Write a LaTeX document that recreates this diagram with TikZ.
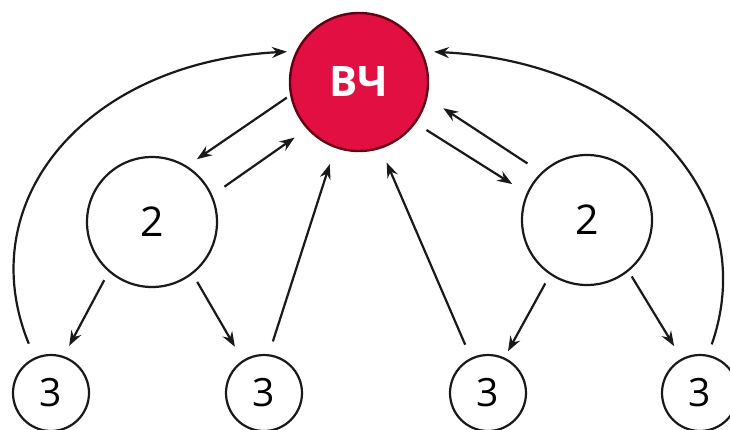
\documentclass[tikz,border=0pt]{standalone}
\usepackage{fontspec}
\setmainfont{Open Sans}
\usetikzlibrary{arrows.meta}
\definecolor{vcred}{RGB}{226,16,66}
\definecolor{vcedge}{RGB}{100,0,20}
\definecolor{ink}{RGB}{25,25,25}
\begin{document}
\begin{tikzpicture}[x=1pt,y=-1pt,
  bignode/.style={circle,draw=ink,line width=2.2pt,minimum size=130pt,inner sep=0pt,font=\fontsize{41}{41}\selectfont},
  smallnode/.style={circle,draw=ink,line width=2.2pt,minimum size=76pt,inner sep=0pt,font=\fontsize{39}{39}\selectfont},
  hub/.style={circle,draw=vcedge,fill=vcred,line width=2.4pt,minimum size=138pt,inner sep=0pt,text=white,font=\bfseries\fontsize{42}{42}\selectfont},
  arr/.style={draw=ink,line width=2.2pt,-{Stealth[length=15pt,width=11pt,inset=5pt]}}]
\useasboundingbox (0,0) rectangle (730,430);
\node[hub] (vc) at (359,82) {ВЧ};
\node[bignode] (L2) at (152,222) {2};
\node[bignode] (R2) at (587,220) {2};
\node[smallnode] (a) at (51,393) {3};
\node[smallnode] (b) at (264,393) {3};
\node[smallnode] (c) at (488,393) {3};
\node[smallnode] (d) at (700,393) {3};
\draw[arr,shorten <=4pt,shorten >=12pt] (vc.191) -- (L2.58);
\draw[arr,shorten <=14.7pt,shorten >=15pt] (L2.24) -- (vc.222.6);
\draw[arr,shorten <=9.4pt,shorten >=11.6pt] (L2.229) -- (a.71);
\draw[arr,shorten <=9pt,shorten >=15.5pt] (L2.308) -- (b.123);
\draw[arr,shorten <=13.4pt,shorten >=17pt] (b.83) -- (vc.250);
\draw[arr,shorten <=14.3pt,shorten >=15pt] (c.116) -- (vc.288);
\draw[arr,shorten <=12.6pt,shorten >=17pt] (vc.324) -- (R2.156);
\draw[arr,shorten <=16.3pt,shorten >=19pt] (R2.134.5) -- (vc.347);
\draw[arr,shorten <=9.9pt,shorten >=7.2pt] (R2.236) -- (c.65);
\draw[arr,shorten <=6pt,shorten >=14.4pt] (R2.309) -- (d.118.5);
\draw[arr,shorten <=15pt,shorten >=9pt] (a.115.6) .. controls (-30,200) and (87,62) .. (vc.154);
\draw[arr,shorten <=11pt,shorten >=12pt] (d.78) .. controls (762,200) and (640,62) .. (vc.26);
\end{tikzpicture}
\end{document}
